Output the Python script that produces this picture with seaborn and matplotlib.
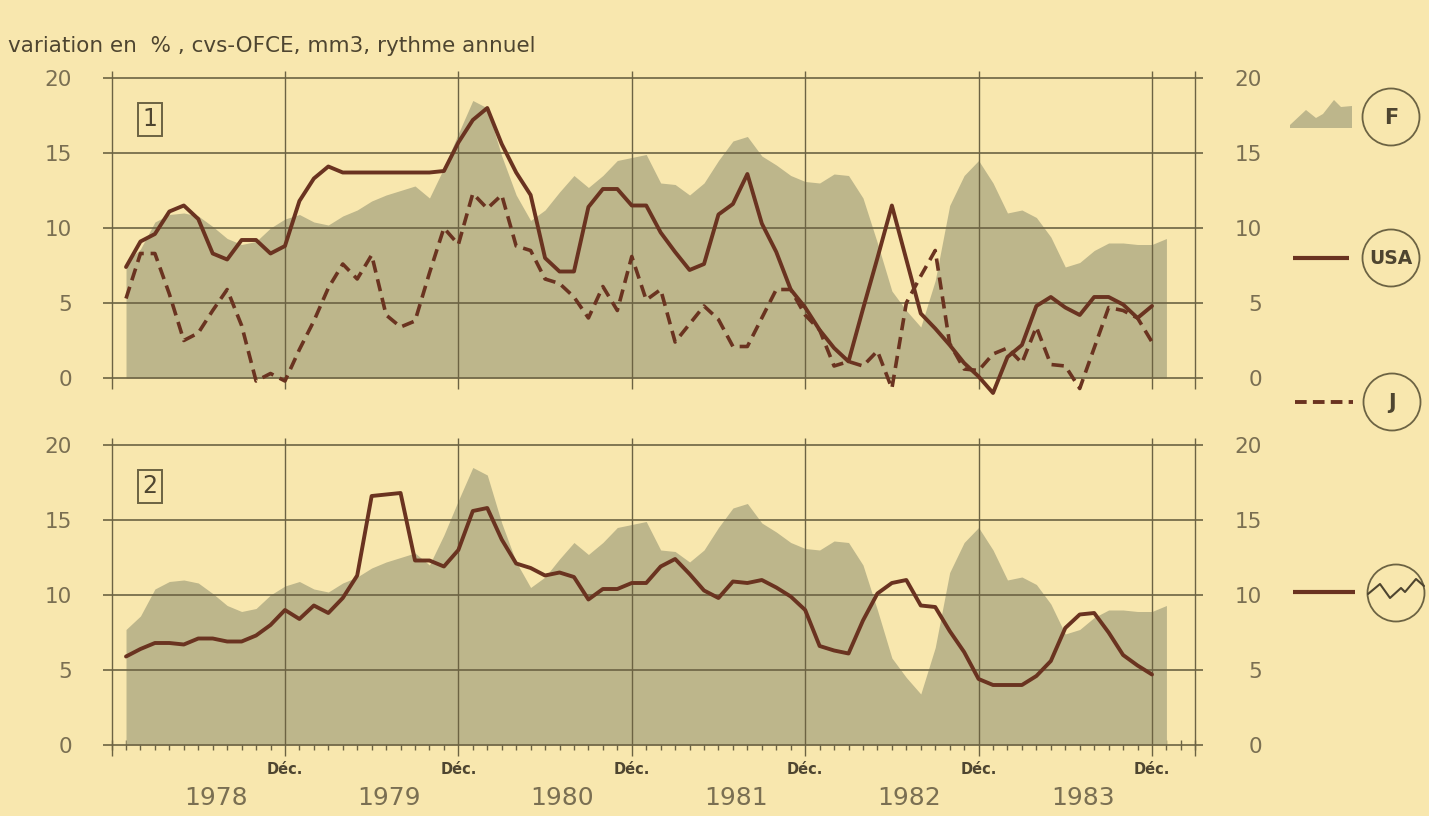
import numpy as np
import pandas as pd
import matplotlib
matplotlib.use("Agg")
import matplotlib.pyplot as plt
from matplotlib.patches import Circle, Polygon
import seaborn as sns

# ── data : monthly growth rates, Jan 1978 = month 0 ─────────────────────────
# France (grey area), Jan 1978 .. Jan 1984
france = [7.7, 8.6, 10.4, 10.9, 11.0, 10.8, 10.1, 9.3, 8.9, 9.1,
          10.0, 10.6, 10.9, 10.4, 10.2, 10.8, 11.2, 11.8, 12.2, 12.5,
          12.8, 12.0, 14.0, 16.3, 18.5, 18.0, 14.8, 12.2, 10.5, 11.2,
          12.4, 13.5, 12.7, 13.5, 14.5, 14.7, 14.9, 13.0, 12.9, 12.2,
          13.0, 14.5, 15.8, 16.1, 14.8, 14.2, 13.5, 13.1, 13.0, 13.6,
          13.5, 12.0, 9.0, 5.8, 4.5, 3.4, 6.5, 11.5, 13.5, 14.5,
          13.0, 11.0, 11.2, 10.7, 9.4, 7.4, 7.7, 8.5, 9.0, 9.0,
          8.9, 8.9, 9.3]

# USA, Jan 1978 .. Dec 1983
usa = [7.4, 9.1, 9.6, 11.1, 11.5, 10.6, 8.3, 7.9, 9.2, 9.2,
       8.3, 8.8, 11.8, 13.3, 14.1, 13.7, 13.7, 13.7, 13.7, 13.7,
       13.7, 13.7, 13.8, 15.7, 17.2, 18.0, 15.6, 13.7, 12.2, 8.0,
       7.1, 7.1, 11.4, 12.6, 12.6, 11.5, 11.5, 9.7, 8.4, 7.2,
       7.6, 10.9, 11.6, 13.6, 10.3, 8.4, 5.9, 4.7, 3.2, 2.0,
       1.1, 4.6, 8.0, 11.5, 7.9, 4.3, 3.3, 2.2, 1.0, 0.1,
       -1.0, 1.4, 2.2, 4.8, 5.4, 4.7, 4.2, 5.4, 5.4, 4.9,
       4.0, 4.8]

# Japon, Jan 1978 .. Dec 1983
japon = [5.3, 8.3, 8.3, 5.6, 2.5, 3.0, 4.5, 5.9, 3.5, -0.2,
         0.3, -0.2, 1.9, 3.8, 6.0, 7.6, 6.6, 8.2, 4.2, 3.4,
         3.8, 7.0, 10.0, 8.9, 12.3, 11.3, 12.2, 8.8, 8.5, 6.6,
         6.3, 5.4, 4.0, 6.1, 4.5, 8.1, 5.2, 5.9, 2.4, 3.6,
         4.8, 3.9, 2.1, 2.1, 4.0, 5.9, 5.9, 4.2, 3.2, 0.8,
         1.1, 0.8, 1.8, -0.7, 5.0, 6.8, 8.5, 2.3, 0.6, 0.5,
         1.6, 2.0, 1.0, 3.4, 0.9, 0.8, -0.7, 2.0, 4.7, 4.5,
         4.0, 2.4]

# panel 2 line (wavy symbol), Jan 1978 .. Dec 1983
monde = [5.9, 6.4, 6.8, 6.8, 6.7, 7.1, 7.1, 6.9, 6.9, 7.3,
         8.0, 9.0, 8.4, 9.3, 8.8, 9.8, 11.3, 16.6, 16.7, 16.8,
         12.3, 12.3, 11.9, 13.0, 15.6, 15.8, 13.7, 12.1, 11.8, 11.3,
         11.5, 11.2, 9.7, 10.4, 10.4, 10.8, 10.8, 11.9, 12.4, 11.4,
         10.3, 9.8, 10.9, 10.8, 11.0, 10.5, 9.9, 9.0, 6.6, 6.3,
         6.1, 8.3, 10.1, 10.8, 11.0, 9.3, 9.2, 7.6, 6.2, 4.4,
         4.0, 4.0, 4.0, 4.6, 5.6, 7.8, 8.7, 8.8, 7.5, 6.0,
         5.3, 4.7]

years = ["1978", "1979", "1980", "1981", "1982", "1983"]
dec_months = [11, 23, 35, 47, 59, 71]
y_ticks = [0, 5, 10, 15, 20]
title = "variation en  % , cvs-OFCE, mm3, rythme annuel"

BG = "#F8E7AE"
AREA = "#BDB68B"
LINE = "#6A3320"
GRID = "#6C6343"
TXT = "#7A6F52"
INK = "#4E4530"

df_f = pd.DataFrame({"mois": np.arange(len(france)), "val": france})
df_l = pd.DataFrame({"mois": np.arange(len(usa)), "usa": usa,
                     "japon": japon, "monde": monde})

sns.set_theme(style="white")
plt.rcParams["font.family"] = ["DejaVu Sans"]

W, H = 1429, 816
fig = plt.figure(figsize=(W / 100, H / 100), dpi=100)
fig.patch.set_facecolor(BG)

XMIN, XMAX = -1.8, 74.6
YMIN, YMAX = -0.8, 20.6
ax_left, ax_w = 100 / W, 1104 / W
ax_h = 321 / H
ax1 = fig.add_axes([ax_left, 1 - 390 / H, ax_w, ax_h])
ax2 = fig.add_axes([ax_left, 1 - 757 / H, ax_w, ax_h])


def _frame(ax):
    ax.set_facecolor("none")
    ax.set_xlim(XMIN, XMAX)
    ax.set_ylim(YMIN, YMAX)
    for s in ax.spines.values():
        s.set_visible(False)
    ax.hlines(y_ticks, -1.6, 74.5, color=GRID, lw=1.2, zorder=3)
    ax.vlines([-1] + dec_months + [74], -0.7, 20.5, color=GRID, lw=1.0, zorder=3)
    ax.set_yticks(y_ticks)
    ax.set_yticklabels([str(v) for v in y_ticks])
    ax.tick_params(axis="y", length=0, labelsize=15.5, labelcolor=TXT,
                   left=False, right=False, labelleft=True, labelright=True, pad=20)
    # right-hand labels end near x=1263 px
    for t in ax.yaxis.get_major_ticks():
        t.label2.set_horizontalalignment("right")
        t.label2.set_x(1.0 + 58 / 1104)
        t.label2.set_transform(ax.get_yaxis_transform())
    ax.fill_between(df_f["mois"], df_f["val"], 0, color=AREA, lw=0, zorder=1)


for ax in (ax1, ax2):
    _frame(ax)

# panel 1 : USA solid, Japon dashed
sns.lineplot(data=df_l, x="mois", y="usa", ax=ax1, color=LINE, lw=2.8,
             clip_on=False, zorder=4)
sns.lineplot(data=df_l, x="mois", y="japon", ax=ax1, color=LINE, lw=2.6,
             clip_on=False, zorder=4)
ax1.lines[-1].set_dashes([3.4, 1.9])
ax1.set_xticks([])
ax1.set_xlabel("")
ax1.set_ylabel("")

# panel 2 : single line
sns.lineplot(data=df_l, x="mois", y="monde", ax=ax2, color=LINE, lw=2.8,
             clip_on=False, zorder=4)
ax2.set_xlabel("")
ax2.set_ylabel("")
ax2.spines["bottom"].set_position(("data", 0))
ax2.set_xticks(dec_months)
ax2.set_xticklabels(["Déc."] * len(dec_months))
ax2.set_xticks(np.arange(-1, 75), minor=True)
ax2.tick_params(axis="x", which="major", length=0, pad=12,
                labelsize=10.5, labelcolor=INK)
ax2.tick_params(axis="x", which="minor", direction="inout", length=7,
                width=1.0, color=GRID, bottom=True)
for lab in ax2.get_xticklabels():
    lab.set_fontweight("bold")
for i, yr in enumerate(years):
    ax2.text(6.2 + 12 * i, -3.55, yr, ha="center", va="center",
             fontsize=18, color=TXT, clip_on=False)

# panel numbers in small boxes
for ax, num in ((ax1, "1"), (ax2, "2")):
    ax.text(1.65, 17.25, num, ha="center", va="center", fontsize=17,
            color=INK, zorder=5,
            bbox=dict(boxstyle="square,pad=0.2", fc="none", ec=GRID, lw=1.4))

fig.text(8 / W, 1 - 46 / H, title, ha="left", va="center",
         fontsize=15.5, color=INK)

# ── legend drawn in pixel coordinates ────────────────────────────────────────
ov = fig.add_axes([0, 0, 1, 1])
ov.set_xlim(0, W)
ov.set_ylim(H, 0)
ov.axis("off")
ov.set_facecolor("none")

ov.add_patch(Polygon([(1290, 128), (1290, 125), (1306, 110), (1316, 118),
                      (1323, 114), (1334, 100), (1341, 107), (1352, 106),
                      (1352, 128)], closed=True, fc=AREA, ec="none"))
ov.plot([1293, 1349], [258, 258], color=LINE, lw=3.0, solid_capstyle="butt")
ov.plot([1295, 1353], [402, 402], color=LINE, lw=2.8, dashes=[3.0, 1.6])
ov.plot([1293, 1355], [592, 592], color=LINE, lw=3.0, solid_capstyle="butt")

for cx, cy, lab in ((1391, 117, "F"), (1391, 258, "USA"), (1392, 402, "J"),
                    (1396, 593, None)):
    ov.add_patch(Circle((cx, cy), 28.5, fc="none", ec=GRID, lw=1.3))
    if lab:
        ov.text(cx, cy + 1, lab, ha="center", va="center",
                fontsize=15 if lab != "USA" else 13.5,
                fontweight="bold", color=INK)
ov.plot([1368, 1380, 1390, 1401, 1405, 1416, 1424],
        [594, 584, 598, 588, 592, 579, 586], color=INK, lw=1.5)

fig.savefig("out.png", dpi=100, facecolor=BG)
